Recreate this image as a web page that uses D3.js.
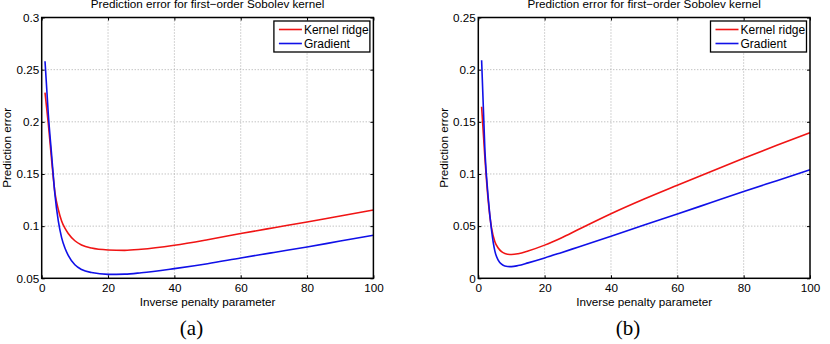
<!DOCTYPE html>
<html>
<head>
<meta charset="utf-8">
<script src="https://cdn.jsdelivr.net/npm/d3@7"></script>
<style>
  body { margin: 0; background: #fff; }
  svg { display: block; font-family: "Liberation Sans", Arial, sans-serif; }
  .grid line { stroke: #a8a8a8; stroke-width: 1; stroke-dasharray: 1,2; }
  .tick text { font-size: 11.7px; fill: #000; }
</style>
</head>
<body>
<div id="chart"></div>
<script>
const width = 830;
const height = 344;

// data
const xs = [1, 2, 3, 4, 5, 6, 7, 8, 10, 12, 15, 20, 25, 30, 40, 50, 60, 70, 80, 90, 100];
const ridgeA = [0.228, 0.198, 0.163, 0.132, 0.116, 0.105, 0.098, 0.093, 0.086, 0.082, 0.079, 0.0772,
  0.0768, 0.0778, 0.0817, 0.087, 0.0929, 0.0985, 0.104, 0.1098, 0.1155];
const gradA = [0.258, 0.207, 0.168, 0.130, 0.105, 0.089, 0.079, 0.072, 0.063, 0.0585, 0.0555, 0.0538,
  0.054, 0.0553, 0.0593, 0.064, 0.0695, 0.0748, 0.080, 0.0857, 0.0913];
const ridgeB = [0.1645, 0.115, 0.074, 0.048, 0.035, 0.029, 0.0255, 0.0238, 0.0228, 0.0236, 0.0262, 0.0318,
  0.0387, 0.0465, 0.0619, 0.076, 0.0892, 0.1022, 0.115, 0.1275, 0.1396];
const gradB = [0.209, 0.122, 0.077, 0.046, 0.026, 0.0175, 0.0135, 0.0118, 0.0112, 0.0122, 0.0148, 0.0195,
  0.0246, 0.0298, 0.0402, 0.051, 0.0616, 0.0724, 0.0832, 0.0936, 0.104];

const xTicks = [0, 20, 40, 60, 80, 100];
const yTicksA = [0.05, 0.1, 0.15, 0.2, 0.25, 0.3];
const yLabelsA = ["0.05", "0.1", "0.15", "0.2", "0.25", "0.3"];
const yTicksB = [0, 0.05, 0.1, 0.15, 0.2, 0.25];
const yLabelsB = ["0", "0.05", "0.1", "0.15", "0.2", "0.25"];
const seriesNames = ["Kernel ridge", "Gradient"];
const colors = ["#f01414", "#1010e8"];

const svg = d3.select("#chart")
  .append("svg")
  .attr("width", width)
  .attr("height", height);

function drawPanel(left, yTicks, yLabels, series, caption, captionX) {
  const w = 331.7, top = 17.5, bottom = 278.3;
  const g = svg.append("g").attr("transform", "translate(" + left + ",0)");

  const x = d3.scaleLinear().domain([0, 100]).range([0, w]);
  const y = d3.scaleLinear().domain([yTicks[0], yTicks[yTicks.length - 1]]).range([bottom, top]);

  // grid
  const grid = g.append("g").attr("class", "grid");
  grid.selectAll(".gx").data(xTicks.slice(1, -1)).enter().append("line")
    .attr("x1", d => x(d)).attr("x2", d => x(d))
    .attr("y1", top).attr("y2", bottom);
  grid.selectAll(".gy").data(yTicks.slice(1, -1)).enter().append("line")
    .attr("x1", 0).attr("x2", w)
    .attr("y1", d => y(d)).attr("y2", d => y(d));

  // axes, ticks pointing in
  const xAxis = g.append("g")
    .attr("transform", "translate(0," + bottom + ")")
    .call(d3.axisBottom(x).tickValues(xTicks).tickSizeInner(-3).tickSizeOuter(0).tickPadding(5.5));
  const yAxis = g.append("g")
    .call(d3.axisLeft(y).tickValues(yTicks).tickFormat((d, i) => yLabels[i])
      .tickSizeInner(-3).tickSizeOuter(0).tickPadding(2.5));
  const xTop = g.append("g")
    .attr("transform", "translate(0," + top + ")")
    .call(d3.axisTop(x).tickValues(xTicks).tickSizeInner(-3).tickSizeOuter(0).tickFormat(""));
  const yRight = g.append("g")
    .attr("transform", "translate(" + w + ",0)")
    .call(d3.axisRight(y).tickValues(yTicks).tickSizeInner(-3).tickSizeOuter(0).tickFormat(""));
  [xAxis, yAxis, xTop, yRight].forEach(a => {
    a.select(".domain").remove();
    a.selectAll("line").attr("stroke", "#000");
    a.attr("font-family", null).attr("font-size", null);
  });

  // lines
  const line = d3.line()
    .x((d, i) => x(xs[i]))
    .y(d => y(d))
    .curve(d3.curveMonotoneX);
  series.forEach((s, i) => {
    g.append("path")
      .datum(s)
      .attr("fill", "none")
      .attr("stroke", colors[i])
      .attr("stroke-width", 1.6)
      .attr("d", line);
  });

  // box
  g.append("rect")
    .attr("x", 0).attr("y", top)
    .attr("width", w).attr("height", bottom - top)
    .attr("fill", "none").attr("stroke", "#000").attr("stroke-width", 1.5);

  // legend
  const lg = g.append("g").attr("transform", "translate(" + (w - 99.5) + ",21)");
  lg.append("rect")
    .attr("width", 96).attr("height", 31)
    .attr("fill", "#fff").attr("stroke", "#000").attr("stroke-width", 1.3);
  seriesNames.forEach((name, i) => {
    lg.append("line")
      .attr("x1", 5).attr("x2", 28)
      .attr("y1", 8.5 + i * 14).attr("y2", 8.5 + i * 14)
      .attr("stroke", colors[i]).attr("stroke-width", 1.6);
    lg.append("text")
      .attr("x", 30).attr("y", 12.5 + i * 14)
      .attr("font-size", "12px")
      .text(name);
  });

  // titles and labels
  g.append("text")
    .attr("x", w / 2).attr("y", 8)
    .attr("text-anchor", "middle")
    .attr("font-size", "11.7px")
    .text("Prediction error for first\u2212order Sobolev kernel");
  g.append("text")
    .attr("x", w / 2).attr("y", 305.5)
    .attr("text-anchor", "middle")
    .attr("font-size", "11.7px")
    .text("Inverse penalty parameter");
  g.append("text")
    .attr("transform", "translate(-30.5," + (top + bottom) / 2 + ") rotate(-90)")
    .attr("text-anchor", "middle")
    .attr("font-size", "11.7px")
    .text("Prediction error");
  svg.append("text")
    .attr("x", captionX).attr("y", 335)
    .attr("text-anchor", "middle")
    .attr("font-family", "'Liberation Serif', 'DejaVu Serif', serif")
    .attr("font-size", "21px")
    .text(caption);
}

drawPanel(41.7, yTicksA, yLabelsA, [ridgeA, gradA], "(a)", 191.5);
drawPanel(478.3, yTicksB, yLabelsB, [ridgeB, gradB], "(b)", 628);
</script>
</body>
</html>
